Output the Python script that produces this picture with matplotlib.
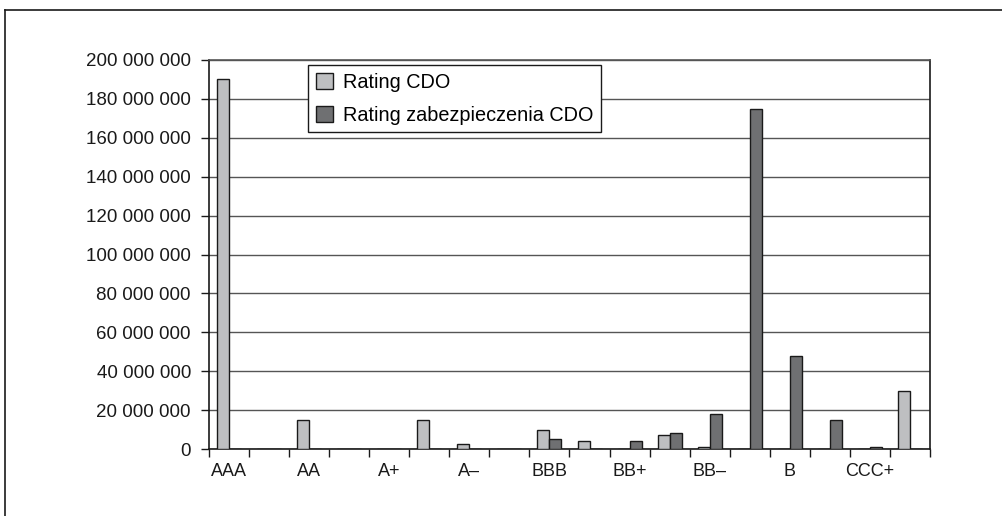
import numpy as np
import matplotlib.pyplot as plt
from matplotlib.ticker import FuncFormatter
from matplotlib.lines import Line2D

plt.rcParams['font.family'] = ['Liberation Sans', 'DejaVu Sans']

# rating classes, every other one gets a label on the axis
ratings = ['AAA', 'AA+', 'AA', 'AA-', 'A+', 'A', 'A\u2013', 'BBB+', 'BBB', 'BBB-',
           'BB+', 'BB', 'BB\u2013', 'B+', 'B', 'B-', 'CCC+', 'CCC']
shown_labels = ['AAA', 'AA', 'A+', 'A\u2013', 'BBB', 'BB+', 'BB\u2013', 'B', 'CCC+']

rating_cdo = [190e6, 0, 15e6, 0, 0, 15e6, 2.5e6, 0, 10e6, 4e6,
              0, 7e6, 1e6, 0, 0, 0, 0, 30e6]
rating_zabezp = [0, 0, 0, 0, 0, 0, 0, 0, 5e6, 0,
                 4e6, 8e6, 18e6, 175e6, 48e6, 15e6, 1e6, 0]

light = '#bebfc1'
dark = '#6f7072'

fig = plt.figure(figsize=(10.03, 5.16), dpi=100)
ax = fig.add_axes([209 / 1003, 1 - 449 / 516, 721 / 1003, 389 / 516])

x = np.arange(len(ratings))
w = 0.3
ax.bar(x - w / 2, rating_cdo, w, color=light, edgecolor='#1a1a1a', linewidth=1.0,
       label='Rating CDO', zorder=3)
ax.bar(x + w / 2, rating_zabezp, w, color=dark, edgecolor='#1a1a1a', linewidth=1.0,
       label='Rating zabezpieczenia CDO', zorder=3)

ax.set_xlim(-0.5, len(ratings) - 0.5)
ax.set_ylim(0, 200e6)
ax.set_yticks(np.arange(0, 200e6 + 1, 20e6))
ax.yaxis.set_major_formatter(FuncFormatter(lambda v, p: f'{int(v):,}'.replace(',', ' ')))
ax.grid(axis='y', color='#555555', linewidth=1.0, zorder=0)

# category labels at every second class, tick marks on class boundaries
ax.set_xticks(x[::2])
ax.set_xticklabels(shown_labels)
ax.set_xticks(np.arange(-0.5, len(ratings)), minor=True)
ax.tick_params(axis='x', which='major', length=0, pad=10, labelsize=13, colors='#1a1a1a')
ax.tick_params(axis='x', which='minor', length=6, width=1.0, color='#1a1a1a')
ax.tick_params(axis='y', length=6, width=1.0, pad=7, labelsize=13.5, colors='#1a1a1a')

for side in ['left', 'bottom', 'right']:
    ax.spines[side].set_color('#1a1a1a')
    ax.spines[side].set_linewidth(1.2)
ax.spines['top'].set_color('#555555')
ax.spines['top'].set_linewidth(1.2)

leg = ax.legend(loc='upper left', bbox_to_anchor=(0.137, 0.988), fontsize=14.3,
                frameon=True, fancybox=False, handlelength=0.85, handleheight=0.85,
                handletextpad=0.5, borderpad=0.4, labelspacing=0.7,
                borderaxespad=0)
leg.get_frame().set_edgecolor('#1a1a1a')
leg.get_frame().set_linewidth(1.0)
leg.get_frame().set_alpha(1)
for h in leg.legend_handles:
    h.set_edgecolor('#1a1a1a')

# outer frame around the figure
fig.add_artist(Line2D([5 / 1003, 1.0], [1 - 10 / 516, 1 - 10 / 516],
                      color='#1a1a1a', linewidth=1.2))
fig.add_artist(Line2D([5 / 1003, 5 / 1003], [0, 1 - 10 / 516],
                      color='#1a1a1a', linewidth=1.2))

fig.savefig('out.png', dpi=100)
